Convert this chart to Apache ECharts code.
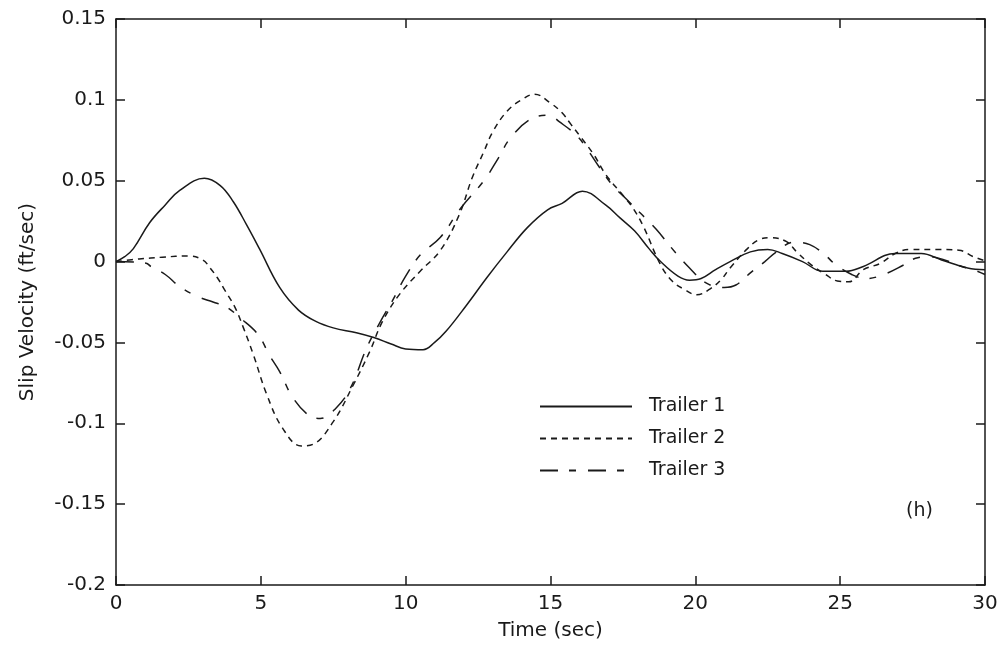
<!DOCTYPE html>
<html lang="en">
<head>
    <meta charset="UTF-8">
    <title>slip velocity</title>
    <script src="https://cdn.jsdelivr.net/npm/echarts@6/dist/echarts.min.js"></script>
    <style>
        html, body { margin: 0; padding: 0; background: #fff; }
        #chart { width: 1002px; height: 650px; }
    </style>
</head>
<body>
<div id="chart"></div>
<script>
    // values (time in sec, slip velocity in ft/sec)
    var t1Time = [0, 0.3, 0.6, 1.16, 1.7, 2.2, 3.05, 3.6, 4.05, 4.5, 4.95, 5.65, 6.3, 6.9, 7.5, 8.3, 8.9, 9.5, 10.0, 10.6, 11.0, 11.4, 12.1, 12.8, 13.5, 14.2, 14.9, 15.4, 16.1, 16.9, 17.4, 17.9, 18.4, 18.8, 19.4, 19.8, 20.2, 20.7, 21.2, 21.9, 22.5, 23.0, 23.7, 24.4, 25.2, 25.8, 26.9, 27.8, 28.5, 29.4, 30];
    var t1Vel  = [0, 0.003, 0.008, 0.024, 0.035, 0.044, 0.0515, 0.047, 0.037, 0.023, 0.008, -0.016, -0.030, -0.037, -0.041, -0.044, -0.047, -0.051, -0.054, -0.0545, -0.050, -0.043, -0.027, -0.010, 0.006, 0.021, 0.032, 0.036, 0.0435, 0.035, 0.027, 0.019, 0.008, 0.0, -0.009, -0.0115, -0.0105, -0.005, 0.0, 0.006, 0.0075, 0.005, 0.0, -0.006, -0.006, -0.003, 0.005, 0.005, 0.001, -0.004, -0.005];

    var t2Time = [0, 0.8, 1.6, 2.5, 3.0, 3.25, 3.5, 3.75, 4.1, 4.4, 4.75, 5.2, 5.75, 6.4, 6.8, 7.5, 8.2, 8.75, 9.2, 9.8, 10.5, 11.2, 11.85, 12.3, 12.7, 13.0, 13.5, 14.0, 14.45, 15.0, 15.4, 15.7, 16.0, 16.5, 16.9, 17.5, 17.85, 18.2, 18.8, 19.2, 19.6, 20.05, 20.5, 20.9, 21.2, 21.8, 22.2, 22.6, 23.15, 23.5, 24.0, 24.5, 24.9, 25.3, 25.8, 26.4, 26.9, 27.4, 28.3, 29.1, 29.6, 30];
    var t2Vel  = [0, 0.0016, 0.0027, 0.0035, 0.001, -0.004, -0.010, -0.0175, -0.028, -0.041, -0.058, -0.082, -0.103, -0.114, -0.113, -0.099, -0.076, -0.056, -0.037, -0.020, -0.006, 0.007, 0.029, 0.052, 0.068, 0.080, 0.093, 0.100, 0.1035, 0.098, 0.092, 0.085, 0.078, 0.066, 0.054, 0.041, 0.033, 0.022, -0.002, -0.012, -0.017, -0.0205, -0.017, -0.011, -0.004, 0.008, 0.0135, 0.0148, 0.0123, 0.006, -0.002, -0.008, -0.012, -0.0125, -0.005, -0.001, 0.005, 0.0075, 0.0075, 0.007, 0.003, 0.0005];

    var t3Time = [0, 1.04, 1.2, 1.7, 2.2, 2.8, 3.35, 3.8, 4.3, 4.9, 5.3, 5.65, 6.1, 6.65, 7.05, 7.6, 8.1, 8.65, 9.1, 9.55, 10.0, 10.5, 11.2, 11.9, 12.7, 13.2, 13.6, 14.3, 14.95, 15.3, 15.9, 16.25, 16.7, 17.15, 17.6, 18.1, 18.65, 19.2, 19.8, 20.4, 21.0, 21.4, 21.9, 22.4, 22.8, 23.4, 23.95, 24.45, 24.85, 25.4, 25.9, 26.5, 27.2, 27.6, 28.1, 28.6, 29.2, 29.6, 30];
    var t3Vel  = [0, -0.001, -0.003, -0.008, -0.0155, -0.0215, -0.025, -0.028, -0.035, -0.045, -0.058, -0.068, -0.084, -0.095, -0.097, -0.0905, -0.078, -0.0535, -0.038, -0.024, -0.009, 0.004, 0.015, 0.033, 0.050, 0.064, 0.076, 0.088, 0.0905, 0.0865, 0.078, 0.070, 0.058, 0.047, 0.039, 0.030, 0.020, 0.008, -0.004, -0.0135, -0.016, -0.0145, -0.007, 0.0, 0.006, 0.012, 0.0105, 0.0045, -0.002, -0.008, -0.0105, -0.008, -0.002, 0.002, 0.003, 0.001, -0.003, -0.005, -0.008];

    var seriesNames = ['Trailer 1', 'Trailer 2', 'Trailer 3'];

    function pairs(xs, ys) {
        return xs.map(function (x, i) { return [x, ys[i]]; });
    }

    var font = 'DejaVu Sans';
    var ink = '#1a1a1a';

    var myChart = echarts.init(document.getElementById('chart'));

    var axisLine = { show: true, onZero: false, lineStyle: { color: ink, width: 1.5 } };
    var axisTick = { show: true, inside: true, length: 9, lineStyle: { color: ink, width: 1.5 } };

    var option = {
        animation: false,
        backgroundColor: '#fff',
        grid: { left: 116, right: 17, top: 19, bottom: 65 },
        legend: {
            orient: 'vertical',
            left: 534,
            top: 392,
            itemWidth: 92,
            itemHeight: 14,
            itemGap: 13,
            data: seriesNames,
            // hide the marker dot, keep the line sample
            itemStyle: { color: 'transparent', borderWidth: 0 },
            textStyle: { fontFamily: font, fontSize: 19, color: ink, padding: [0, 0, 0, 12] }
        },
        graphic: [{
            type: 'text',
            left: 906,
            top: 502,
            style: { text: '(h)', font: '19px "DejaVu Sans"', fill: ink }
        }],
        xAxis: [{
            type: 'value',
            min: 0, max: 30, interval: 5,
            name: 'Time (sec)',
            nameLocation: 'middle',
            nameGap: 36,
            nameTextStyle: { fontFamily: font, fontSize: 20, color: ink },
            axisLine: axisLine,
            axisTick: axisTick,
            axisLabel: { fontFamily: font, fontSize: 20, color: ink, margin: 9 },
            splitLine: { show: false }
        }, {
            type: 'value',
            position: 'top',
            min: 0, max: 30, interval: 5,
            axisLine: axisLine,
            axisTick: axisTick,
            axisLabel: { show: false },
            splitLine: { show: false }
        }],
        yAxis: [{
            type: 'value',
            min: -0.2, max: 0.15, interval: 0.05,
            name: 'Slip Velocity (ft/sec)',
            nameLocation: 'middle',
            nameGap: 78,
            nameTextStyle: { fontFamily: font, fontSize: 20, color: ink },
            axisLine: axisLine,
            axisTick: axisTick,
            axisLabel: {
                fontFamily: font, fontSize: 20, color: ink, margin: 10,
                formatter: function (v) { return String(+v.toFixed(2)); }
            },
            splitLine: { show: false }
        }, {
            type: 'value',
            position: 'right',
            min: -0.2, max: 0.15, interval: 0.05,
            axisLine: axisLine,
            axisTick: axisTick,
            axisLabel: { show: false },
            splitLine: { show: false }
        }],
        series: [{
            name: seriesNames[0],
            type: 'line',
            smooth: 0.4,
            symbol: 'none',
            data: pairs(t1Time, t1Vel),
            itemStyle: { color: ink },
            lineStyle: { color: ink, width: 1.5, type: 'solid' }
        }, {
            name: seriesNames[1],
            type: 'line',
            smooth: 0.4,
            symbol: 'none',
            data: pairs(t2Time, t2Vel),
            itemStyle: { color: ink },
            lineStyle: { color: ink, width: 1.5, type: [6, 5] }
        }, {
            name: seriesNames[2],
            type: 'line',
            smooth: 0.4,
            symbol: 'none',
            data: pairs(t3Time, t3Vel),
            itemStyle: { color: ink },
            lineStyle: { color: ink, width: 1.5, type: [18, 11, 7, 12] }
        }]
    };

    myChart.setOption(option);
</script>
</body>
</html>
